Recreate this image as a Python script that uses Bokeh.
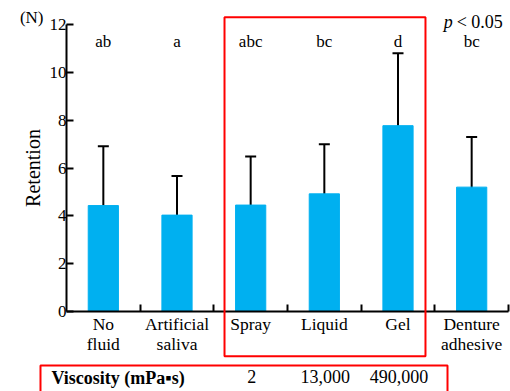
import math
from bokeh.plotting import figure
from bokeh.models import (Range1d, FixedTicker, ColumnDataSource, Whisker, TeeHead,
                          LabelSet, Label, BoxAnnotation)
from bokeh.embed import file_html
from bokeh.resources import INLINE

# ---- data ----
categories = ["No\nfluid", "Artificial\nsaliva", "Spray", "Liquid", "Gel", "Denture\nadhesive"]
retention_mean = [4.43, 4.03, 4.45, 4.92, 7.77, 5.20]
retention_sd = [2.48, 1.64, 2.03, 2.07, 3.03, 2.10]
sig_letters = ["ab", "a", "abc", "bc", "d", "bc"]
y_ticks = [0, 2, 4, 6, 8, 10, 12]
viscosity_groups = ["Spray", "Liquid", "Gel"]
viscosity_values = ["2", "13,000", "490,000"]

SERIF = "Liberation Serif"
BAR = "#00B0F0"
RED = "#FF0000"

# ---- layout (pixels of the 510x391 canvas) ----
W, H = 510, 391
AX_X0, AX_X1 = 66, 508      # x of the axis origin / right end
AX_Y0, AX_Y1 = 311, 24      # y of value 0 / value 12
n = len(categories)
sx = (AX_X1 - AX_X0) / n
sy = (AX_Y0 - AX_Y1) / 12.0

xs = [i + 0.5 for i in range(n)]
bounds = [i + 1 for i in range(n)]
clean = [c.replace("\n", " ").split(" ")[0] for c in categories]

src = ColumnDataSource(dict(
    x=xs,
    mean=retention_mean,
    upper=[m + s for m, s in zip(retention_mean, retention_sd)],
    lower=[m - s for m, s in zip(retention_mean, retention_sd)],
    letters=sig_letters,
))

p = figure(width=W, height=H,
           x_range=Range1d(-AX_X0 / sx, (W - AX_X0) / sx),
           y_range=Range1d(-(H - AX_Y0) / sy, 12 + AX_Y1 / sy),
           output_backend="svg", toolbar_location=None,
           min_border_left=0, min_border_right=0, min_border_top=0, min_border_bottom=0)
p.outline_line_color = None
p.grid.visible = False

p.vbar(x="x", top="mean", width=0.41, source=src, fill_color=BAR, line_color=BAR)

p.add_layout(Whisker(base="x", upper="upper", lower="lower", source=src,
                     line_width=2, line_color="black",
                     upper_head=TeeHead(size=11, line_width=2, line_color="black"),
                     lower_head=TeeHead(size=11, line_width=2, line_color="black")))

# y axis
ya = p.yaxis[0]
ya.fixed_location = 0
ya.bounds = (0, 12)
ya.ticker = FixedTicker(ticks=y_ticks)
ya.axis_line_width = 2
ya.major_tick_line_width = 2
ya.major_tick_in = 7
ya.major_tick_out = 0
ya.minor_tick_line_color = None
ya.major_label_text_font = SERIF
ya.major_label_text_font_size = "17px"
ya.major_label_text_color = "black"
ya.major_label_standoff = 0

# x axis
xa = p.xaxis[0]
xa.fixed_location = 0
xa.bounds = (0, n)
xa.ticker = FixedTicker(ticks=xs, minor_ticks=bounds)
xa.major_label_overrides = {x: c for x, c in zip(xs, categories)}
xa.axis_line_width = 2
xa.major_tick_line_color = None
xa.minor_tick_line_width = 2
xa.minor_tick_line_color = "black"
xa.minor_tick_in = 7
xa.minor_tick_out = 0
xa.major_label_text_font = SERIF
xa.major_label_text_font_size = "17.5px"
xa.major_label_text_color = "black"
xa.major_label_text_line_height = 1.0
xa.major_label_standoff = -4

# y-axis title and unit
p.add_layout(Label(x=0, y=6.0, x_offset=-34, text="Retention", angle=math.pi / 2,
                   text_align="center", text_baseline="alphabetic", text_font=SERIF,
                   text_font_size="20px", text_color="black"))
p.add_layout(Label(x=0, y=12.17, x_offset=-23, y_offset=3, text="(N)", text_align="right",
                   text_baseline="alphabetic", text_font=SERIF, text_font_size="17px",
                   text_color="black"))

# significance letters
p.add_layout(LabelSet(x="x", y=11.05, text="letters", source=src, text_align="center",
                      text_baseline="alphabetic", text_font=SERIF, text_font_size="17px",
                      text_color="black"))

# p-value note
p.add_layout(Label(x=xs[-1], y=11.96, x_offset=-28, y_offset=3, text="p", text_align="left",
                   text_baseline="alphabetic", text_font=SERIF, text_font_size="18px",
                   text_font_style="italic", text_color="black"))
p.add_layout(Label(x=xs[-1], y=11.96, x_offset=-15, y_offset=3, text="< 0.05", text_align="left",
                   text_baseline="alphabetic", text_font=SERIF, text_font_size="18px",
                   text_color="black"))

# red highlight boxes
p.add_layout(BoxAnnotation(left=2.145, right=4.873, top=12.305, bottom=-1.87,
                           fill_color=None, fill_alpha=0, line_color=RED, line_alpha=1.0,
                           line_width=2))
p.add_layout(BoxAnnotation(left=-0.353, right=5.172, top=-2.26, bottom=-3.6,
                           fill_color=None, fill_alpha=0, line_color=RED, line_alpha=1.0,
                           line_width=2))

# viscosity row
vsrc = ColumnDataSource(dict(
    x=[xs[clean.index(g)] for g in viscosity_groups],
    v=viscosity_values,
))
p.add_layout(LabelSet(x="x", y=-3.0, x_offset=1, text="v", source=vsrc, text_align="center",
                      text_baseline="alphabetic", text_font=SERIF, text_font_size="18px",
                      text_color="black"))
p.add_layout(Label(x=0, y=-3.0, x_offset=-15, y_offset=5, text="Viscosity (mPa\u25aas)",
                   text_align="left", text_baseline="alphabetic", text_font=SERIF,
                   text_font_size="18px", text_font_style="bold", text_color="black"))

open("out.html", "w").write(file_html(p, INLINE))
